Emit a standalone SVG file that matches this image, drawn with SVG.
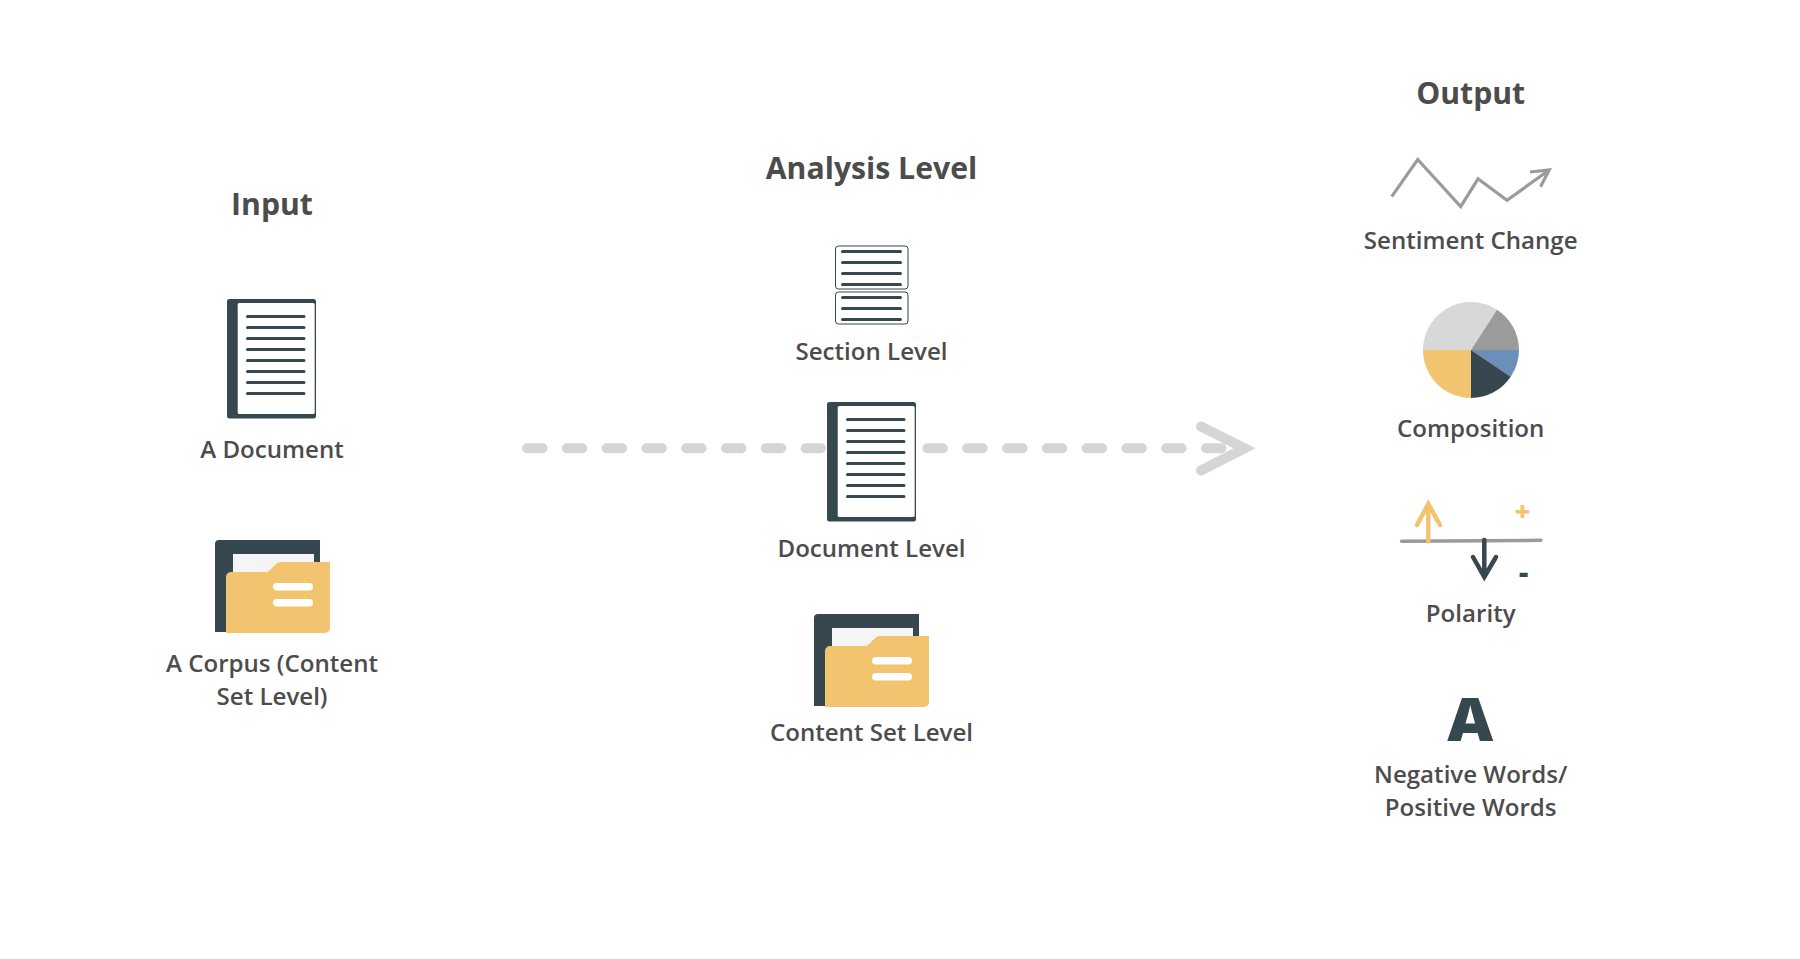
<svg xmlns="http://www.w3.org/2000/svg" xmlns:xlink="http://www.w3.org/1999/xlink" width="1800" height="959" viewBox="0 0 1800 959">
<style>
text{font-family:"Open Sans","Noto Sans","Liberation Sans",sans-serif;fill:#4c4c4c;text-anchor:middle}
.t{font-size:30.200px;font-weight:700}
.l{font-size:24.100px;font-weight:550}
.ln{stroke:#36474f;stroke-width:3;stroke-linecap:round;fill:none}
.dk{fill:#36474f}
.yl{fill:#f2c46f}
</style>
<defs>
<g id="doc">
<rect class="dk" x="227" y="299" width="89" height="119.500" rx="2.500"/>
<rect x="237.700" y="303" width="77" height="111" rx="1.500" fill="#fff"/>
<path class="ln" d="M247.500 316.500H304M247.500 327.500H304M247.500 338.500H304M247.500 349.500H304M247.500 360.500H304M247.500 371.500H304M247.500 382.500H304M247.500 393.500H304"/>
</g>
<g id="folder">
<path class="dk" d="M215 632V544a4 4 0 0 1 4-4H320V632Z"/>
<rect x="233" y="554" width="81" height="30" fill="#f5f5f7"/>
<path class="yl" d="M226 577a5 5 0 0 1 5-5H266q2 0 4-2l6-6q2-2 5-2H330V628a5 5 0 0 1-5 5H226Z"/>
<rect x="273" y="583" width="40" height="7.500" rx="3.700" fill="#fff"/>
<rect x="273" y="599" width="40" height="7.500" rx="3.700" fill="#fff"/>
</g>
</defs>
<rect width="1800" height="959" fill="#fff"/>
<g id="connectors">
<path d="M527 448.300H826M927.400 448.300H1223" fill="none" stroke="#d5d5d5" stroke-width="10" stroke-linecap="round" stroke-dasharray="15.500 24.300"/>
<path d="M1201 426.500L1244.500 448.300L1201 470.500" fill="none" stroke="#d5d5d5" stroke-width="10" stroke-linecap="round" stroke-miterlimit="10"/>
</g>
<g id="input">
<text class="t" x="272" y="215">Input</text>
</g>
<g id="node-document">
<use xlink:href="#doc" href="#doc"/>
<text class="l" x="272" y="457.700">A Document</text>
</g>
<g id="node-corpus">
<use xlink:href="#folder" href="#folder"/>
<text class="l" x="272" y="672">A Corpus (Content</text>
<text class="l" x="272" y="705">Set Level)</text>
</g>
<g id="analysis">
<text class="t" x="871.500" y="179">Analysis Level</text>
</g>
<g id="node-section">
<rect x="835.500" y="246" width="72.500" height="43" rx="3" fill="#fff" stroke="#36474f" stroke-width="1"/>
<rect x="835.500" y="292" width="72.500" height="32" rx="3" fill="#fff" stroke="#36474f" stroke-width="1"/>
<path class="ln" d="M842.500 251.500H900.500M842.500 262.500H900.500M842.500 273.500H900.500M842.500 284.500H900.500M842.500 297.500H900.500M842.500 308.500H900.500M842.500 319.500H900.500"/>
<text class="l" x="871.500" y="360">Section Level</text>
</g>
<g id="node-document-level">
<use xlink:href="#doc" href="#doc" x="600" y="103"/>
<text class="l" x="871.500" y="557">Document Level</text>
</g>
<g id="node-content-set">
<use xlink:href="#folder" href="#folder" x="599" y="74"/>
<text class="l" x="871.500" y="741">Content Set Level</text>
</g>
<g id="output">
<text class="t" x="1470.700" y="104">Output</text>
</g>
<g id="node-sentiment">
<path d="M1391.700 196.700L1417.700 159.500L1460.700 206.700L1478 178.800L1507 200.300L1549.200 170M1530 172L1549.200 170L1540.500 186.700" fill="none" stroke="#9b9b9b" stroke-width="3.200"/>
<text class="l" x="1470.700" y="248.500">Sentiment Change</text>
</g>
<g id="node-composition">
<path fill="#d8d8d8" d="M1471 350L1423 350A48 48 0 0 1 1497 309.700Z"/>
<path fill="#9b9b9b" d="M1471 350L1497 309.700A48 48 0 0 1 1519 350Z"/>
<path fill="#6a8fbb" d="M1471 350L1519 350A48 48 0 0 1 1510.700 376.700Z"/>
<path class="dk" d="M1471 350L1510.700 376.700A48 48 0 0 1 1471 398Z"/>
<path class="yl" d="M1471 350L1471 398A48 48 0 0 1 1423 350Z"/>
<text class="l" x="1470.700" y="436.500">Composition</text>
</g>
<g id="node-polarity">
<path d="M1401.500 541.300L1541 540.300" fill="none" stroke="#9b9b9b" stroke-width="3.500" stroke-linecap="round"/>
<path d="M1428.300 541.500V504M1417 525L1428.300 504L1440 525" fill="none" stroke="#f2c46f" stroke-width="4.500" stroke-linecap="round"/>
<path d="M1484.300 540V577M1473 557L1484.300 577L1496 557" fill="none" stroke="#36474f" stroke-width="4.500" stroke-linecap="round"/>
<text x="1522.300" y="521" font-size="27" font-weight="800" style="fill:#f2c46f">+</text>
<text x="1523.700" y="582" font-size="29" font-weight="800" style="fill:#36474f">-</text>
<text class="l" x="1470.700" y="622">Polarity</text>
</g>
<g id="node-words">
<text x="1470.300" y="741" font-size="60" font-weight="800" textLength="46" lengthAdjust="spacingAndGlyphs" style="fill:#36474f">A</text>
<text class="l" x="1470.700" y="782.500">Negative Words/</text>
<text class="l" x="1470.700" y="815.500">Positive Words</text>
</g>
</svg>
